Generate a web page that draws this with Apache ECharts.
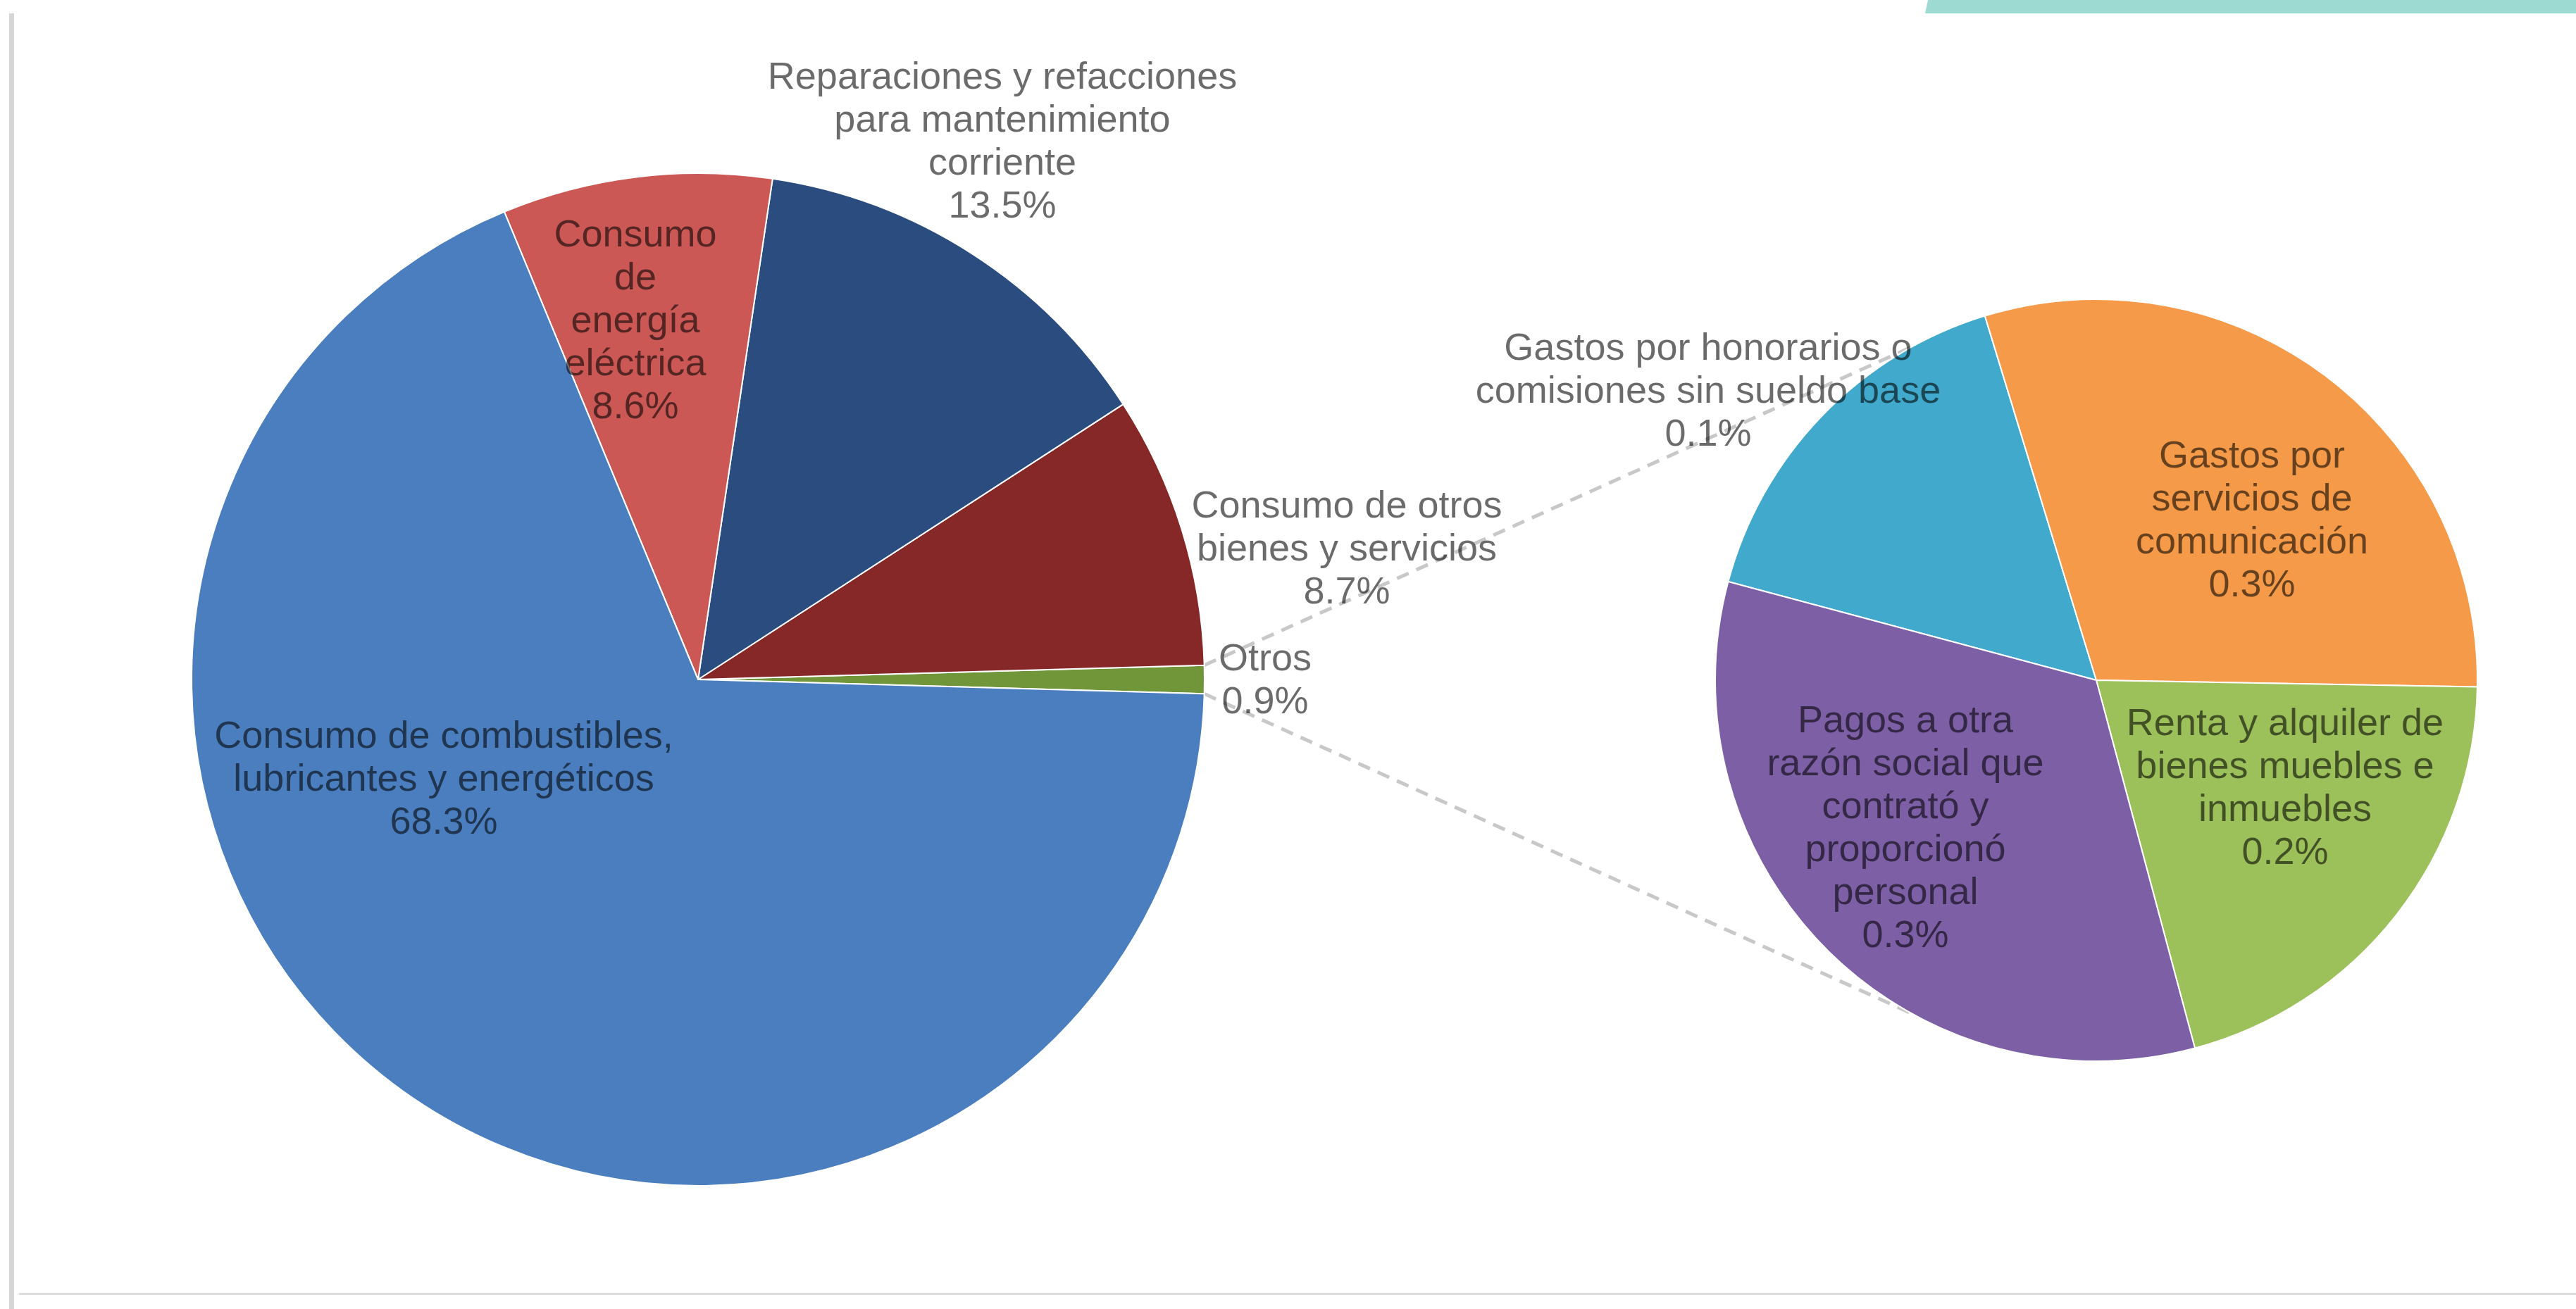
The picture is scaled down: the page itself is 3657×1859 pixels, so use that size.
<!DOCTYPE html>
<html>
<head>
<meta charset="utf-8">
<script src="https://cdn.jsdelivr.net/npm/echarts@6/dist/echarts.min.js"></script>
<style>
html,body{margin:0;padding:0;background:#fff;}
#c{width:3657px;height:1859px;}
</style>
</head>
<body>
<div id="c"></div>
<script>
// ---- data (left pie, counter-clockwise from the "Otros" slice) ----
const mainNames = [
  "Otros",
  "Consumo de otros\nbienes y servicios",
  "Reparaciones y refacciones\npara mantenimiento\ncorriente",
  "Consumo\nde\nenergía\neléctrica",
  "Consumo de combustibles,\nlubricantes y energéticos"
];
const mainValues = [0.9, 8.7, 13.5, 8.6, 68.3];

// ---- data (right pie: breakdown of "Otros", clockwise) ----
const subNames = [
  "Gastos por honorarios o\ncomisiones sin sueldo base",
  "Gastos por\nservicios de\ncomunicación",
  "Renta y alquiler de\nbienes muebles e\ninmuebles",
  "Pagos a otra\nrazón social que\ncontrató y\nproporcionó\npersonal"
];
const subValues = [0.145, 0.27, 0.185, 0.30];

// ---- styles / layout ----
const mainColors = ["#71963a", "#862828", "#2b4c7e", "#cb5855", "#4a7ebf"];
const subColors = ["#41a9cb", "#f59a48", "#9cc05a", "#7d5fa6"];
const mainCenter = [991, 965], mainR = 719;
const subCenter = [2976, 966], subR = 541;
const mainLabelPos = [[1796, 968], [1912, 781], [1423, 203], [902, 457], [630, 1108]];
const subLabelPos = [[2425, 557], [3197, 741], [3244, 1121], [2705, 1178]];
const subStartAngle = 165;
const connectorAngle = 119;

const chart = echarts.init(document.getElementById('c'), null, {renderer: 'canvas'});

const mainTotal = mainValues.reduce((a, b) => a + b, 0);
const otrosHalf = mainValues[0] / mainTotal * 180;
const rad = d => d * Math.PI / 180;
function onCircle(c, r, deg) { return [c[0] + r * Math.cos(rad(deg)), c[1] - r * Math.sin(rad(deg))]; }
const upA = onCircle(mainCenter, mainR, otrosHalf), upB = onCircle(subCenter, subR, connectorAngle);
const loA = onCircle(mainCenter, mainR, -otrosHalf), loB = onCircle(subCenter, subR, -connectorAngle);

const fmt = p => p.name + '\n' + p.value.toFixed(1) + '%';
const labelStyle = {
  show: true, position: 'inside', formatter: fmt,
  fontFamily: 'Liberation Sans, Arial, sans-serif', fontSize: 54, lineHeight: 61,
  color: 'rgba(0,0,0,0.58)', align: 'center'
};
const connStyle = {stroke: '#c8c8c8', lineWidth: 5, lineDash: [18, 12]};

chart.setOption({
  animation: false,
  backgroundColor: '#ffffff',
  graphic: [
    {type: 'polygon', shape: {points: [[2737, 0], [3657, 0], [3657, 19], [2733, 19]]}, style: {fill: '#9cdad2'}},
    {type: 'rect', shape: {x: 13, y: 19, width: 7, height: 1840}, style: {fill: '#d6d6d6'}},
    {type: 'rect', shape: {x: 27, y: 1836, width: 3630, height: 3}, style: {fill: '#dcdcdc'}},
    {type: 'line', z: 1, shape: {x1: upA[0], y1: upA[1], x2: upB[0], y2: upB[1]}, style: connStyle},
    {type: 'line', z: 1, shape: {x1: loA[0], y1: loA[1], x2: loB[0], y2: loB[1]}, style: connStyle}
  ],
  series: [
    {
      type: 'pie', center: mainCenter, radius: mainR,
      startAngle: -otrosHalf, clockwise: false, minAngle: 0,
      avoidLabelOverlap: false,
      itemStyle: {borderColor: '#ffffff', borderWidth: 2},
      label: labelStyle, labelLine: {show: false},
      labelLayout: p => ({x: mainLabelPos[p.dataIndex][0], y: mainLabelPos[p.dataIndex][1], align: 'center', verticalAlign: 'middle'}),
      data: mainNames.map((n, i) => ({name: n, value: mainValues[i], itemStyle: {color: mainColors[i]}}))
    },
    {
      type: 'pie', center: subCenter, radius: subR,
      startAngle: subStartAngle, clockwise: true,
      avoidLabelOverlap: false,
      itemStyle: {borderColor: '#ffffff', borderWidth: 2},
      label: labelStyle, labelLine: {show: false},
      labelLayout: p => ({x: subLabelPos[p.dataIndex][0], y: subLabelPos[p.dataIndex][1], align: 'center', verticalAlign: 'middle'}),
      data: subNames.map((n, i) => ({name: n, value: subValues[i], itemStyle: {color: subColors[i]}}))
    }
  ]
});
</script>
</body>
</html>
